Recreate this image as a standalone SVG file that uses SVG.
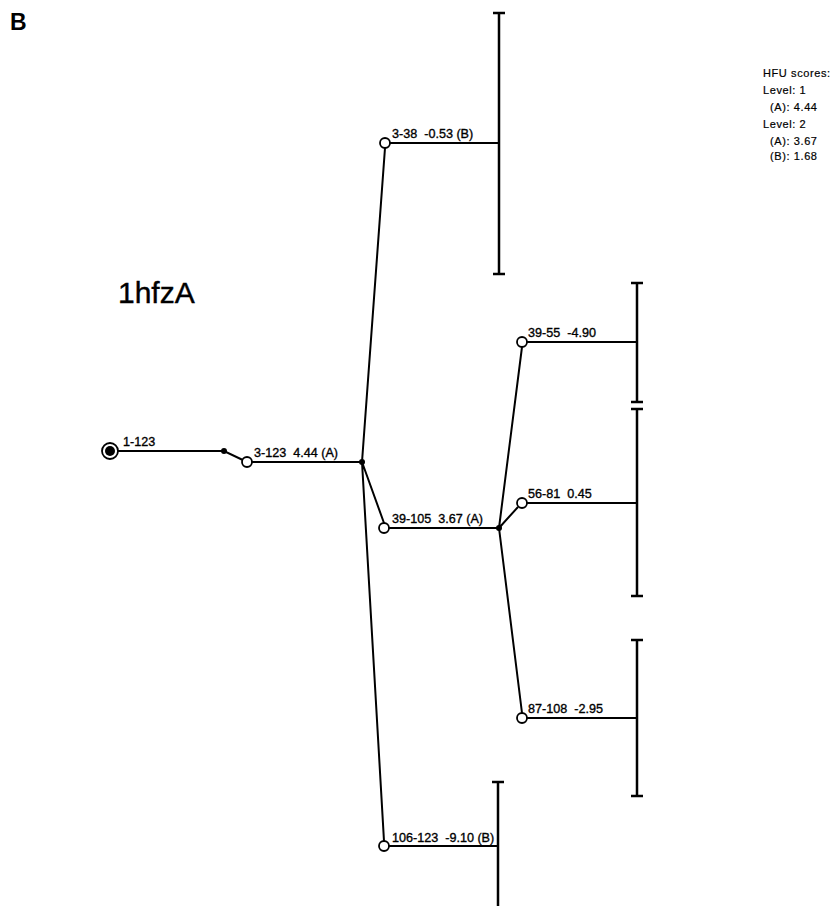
<svg xmlns="http://www.w3.org/2000/svg" width="838" height="906" viewBox="0 0 838 906">
<style>
.ln{stroke:#000;stroke-width:2;fill:none}
.bar{stroke:#000;stroke-width:2.5;fill:none}
.oc{fill:#fff;stroke:#000;stroke-width:1.8}
.dot{fill:#000}
.lb{font-family:"Liberation Sans",Arial,sans-serif;font-size:12.6px;fill:#000;stroke:#000;stroke-width:0.35}
.lg{font-family:"Liberation Sans",Arial,sans-serif;font-size:11px;fill:#000;letter-spacing:0.6px;stroke:#000;stroke-width:0.2}
</style>
<rect width="838" height="906" fill="#fff"/>
<text x="10" y="30" font-family="Liberation Sans,Arial,sans-serif" font-size="23" font-weight="bold">B</text>
<text x="118" y="303" font-family="Liberation Sans,Arial,sans-serif" font-size="30" stroke="#000" stroke-width="0.4">1hfzA</text>
<g id="legend">
<text class="lg" x="763" y="77">HFU scores:</text>
<text class="lg" x="763" y="94">Level: 1</text>
<text class="lg" x="770" y="111">(A): 4.44</text>
<text class="lg" x="763" y="128">Level: 2</text>
<text class="lg" x="770" y="145">(A): 3.67</text>
<text class="lg" x="770" y="160">(B): 1.68</text>
</g>
<g id="connectors">
<path class="ln" d="M118 451H224L247 462"/>
<path class="ln" d="M252 462H362"/>
<path class="ln" d="M362 462L385 148M362 462L384 523M362 462L384 841"/>
<path class="ln" d="M390 143H499M389 528H499M389 846H498"/>
<path class="ln" d="M499 528L522 347M499 528L518 507M499 528L522 713"/>
<path class="ln" d="M527 342H637M527 503H637M527 718H637"/>
</g>
<g id="bars">
<path class="bar" d="M499 13V274M493 13H505M493 274H505"/>
<path class="bar" d="M637 283V402M631 283H643M631 402H643"/>
<path class="bar" d="M637 409V596M631 409H643M631 596H643"/>
<path class="bar" d="M637 640V796M631 640H643M631 796H643"/>
<path class="bar" d="M498 782V906M492 782H504"/>
</g>
<g id="n1-123"><circle cx="110" cy="451" r="8" class="oc"/><circle cx="110" cy="451" r="5" class="dot"/><text class="lb" x="123" y="446">1-123</text></g>
<g id="j1"><circle cx="224" cy="451" r="3" class="dot"/></g>
<g id="n3-123"><circle cx="247" cy="462" r="5" class="oc"/><text class="lb" x="254" y="457" xml:space="preserve">3-123  4.44 (A)</text></g>
<g id="j2"><circle cx="362" cy="462" r="3" class="dot"/></g>
<g id="n3-38"><circle cx="385" cy="143" r="5" class="oc"/><text class="lb" x="392" y="138" xml:space="preserve">3-38  -0.53 (B)</text></g>
<g id="n39-105"><circle cx="384" cy="528" r="5" class="oc"/><text class="lb" x="392" y="523" xml:space="preserve">39-105  3.67 (A)</text></g>
<g id="n106-123"><circle cx="384" cy="846" r="5" class="oc"/><text class="lb" x="392" y="842" xml:space="preserve">106-123  -9.10 (B)</text></g>
<g id="j3"><circle cx="499" cy="528" r="3" class="dot"/></g>
<g id="n39-55"><circle cx="522" cy="342" r="5" class="oc"/><text class="lb" x="528" y="337" xml:space="preserve">39-55  -4.90</text></g>
<g id="n56-81"><circle cx="522" cy="503" r="5" class="oc"/><text class="lb" x="528" y="498" xml:space="preserve">56-81  0.45</text></g>
<g id="n87-108"><circle cx="522" cy="718" r="5" class="oc"/><text class="lb" x="528" y="713" xml:space="preserve">87-108  -2.95</text></g>
</svg>
